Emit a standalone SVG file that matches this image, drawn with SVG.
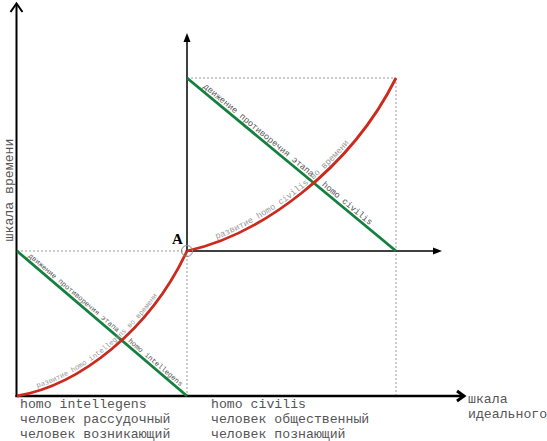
<svg xmlns="http://www.w3.org/2000/svg" width="547" height="441" viewBox="0 0 547 441">
<style>
.axis{stroke:#000;fill:none}
.dot{stroke:#999;stroke-width:1;stroke-dasharray:2,2;fill:none}
.red{stroke:#cc2a1c;stroke-width:2.8;fill:none}
.green{stroke:#138040;stroke-width:2.8;fill:none}
.lbl{font-family:"Liberation Mono","DejaVu Sans Mono",monospace;font-size:13.2px;fill:#555}
.gt{font-family:"Liberation Mono","DejaVu Sans Mono",monospace;fill:#555}
.rt{font-family:"Liberation Mono","DejaVu Sans Mono",monospace;fill:#9a9a9a}
</style>
<defs>
<path id="g1" d="M17,251 L187,396"/>
<path id="g2" d="M187,78 L396,251"/>
<path id="r1" d="M17,396 C80,385 150,330 187,251"/>
<path id="r2" d="M187,251 C260,235 350,170 396,78"/>
</defs>
<rect width="547" height="441" fill="#fff"/>
<g id="guides">
<line class="dot" x1="17" y1="251" x2="187" y2="251"/>
<line class="dot" x1="187" y1="251" x2="187" y2="396"/>
<line class="dot" x1="187" y1="78" x2="396" y2="78"/>
<line class="dot" x1="396" y1="78" x2="396" y2="396"/>
</g>
<g id="axes">
<line class="axis" stroke-width="2" x1="16.5" y1="397" x2="16.5" y2="4"/>
<polyline class="axis" stroke-width="2" points="10.5,12 16.5,3.5 22.5,12"/>
<line class="axis" stroke-width="2.5" x1="15.5" y1="396" x2="462" y2="396"/>
<polyline class="axis" stroke-width="3" points="457,391 464,396 457,401"/>
<line class="axis" stroke-width="1.5" x1="187" y1="251" x2="187" y2="38"/>
<polygon points="187,33 183.5,42 190.5,42" fill="#000"/>
<line class="axis" stroke-width="1.5" x1="187" y1="251" x2="436" y2="251"/>
<polygon points="442,251 433,247.5 433,254.5" fill="#000"/>
</g>
<g id="lines">
<use href="#g1" class="green"/>
<use href="#g2" class="green"/>
<use href="#r1" class="red"/>
<use href="#r2" class="red"/>
</g>
<g id="point-A">
<circle cx="187" cy="251" r="5.5" fill="none" stroke="#888" stroke-width="1"/>
<text x="172" y="244" font-family="Liberation Serif, serif" font-weight="bold" font-size="15" fill="#000">A</text>
</g>
<g id="path-labels">
<text class="gt" font-size="7.2"><textPath href="#g1" startOffset="12"><tspan dy="-3">движение противоречия этапа</tspan></textPath></text>
<text class="gt" font-size="7.2"><textPath href="#g1" startOffset="143"><tspan dy="-3">homo intellegens</tspan></textPath></text>
<text class="rt" font-size="7.2"><textPath href="#r1" startOffset="22"><tspan dy="-3">развитие homo intellegens во времени</tspan></textPath></text>
<text class="gt" font-size="8.7"><textPath href="#g2" startOffset="18"><tspan dy="-3">движение противоречия этапа</tspan></textPath></text>
<text class="gt" font-size="8.7"><textPath href="#g2" startOffset="172"><tspan dy="-3">homo civilis</tspan></textPath></text>
<text class="rt" font-size="8.7"><textPath href="#r2" startOffset="32"><tspan dy="-3">развитие homo civilis во времени</tspan></textPath></text>
</g>
<g id="labels">
<text class="lbl" transform="translate(13,190) rotate(-90)" text-anchor="middle">шкала времени</text>
<text class="lbl" x="468" y="403">шкала</text>
<text class="lbl" x="468" y="418">идеального</text>
<text class="lbl" x="20" y="408">homo intellegens</text>
<text class="lbl" x="20" y="423">человек рассудочный</text>
<text class="lbl" x="20" y="437.5">человек возникающий</text>
<text class="lbl" x="211" y="408">homo civilis</text>
<text class="lbl" x="211" y="423">человек общественный</text>
<text class="lbl" x="211" y="437.5">человек познающий</text>
</g>
</svg>
